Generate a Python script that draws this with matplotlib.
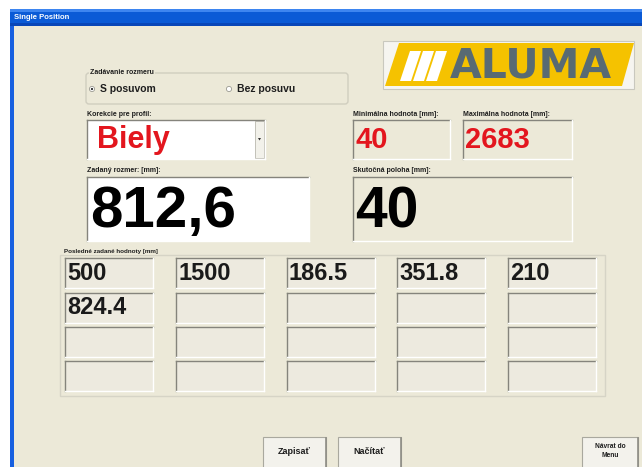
import matplotlib.pyplot as plt
from matplotlib.patches import Rectangle, Polygon, Circle, FancyBboxPatch

# Hodnoty z obrazovky
titulok = "Single Position"
profil = "Biely"
min_hodnota = "40"
max_hodnota = "2683"
zadany_rozmer = "812,6"
skutocna_poloha = "40"
posledne = ["500", "1500", "186.5", "351.8", "210",
            "824.4", "", "", "", "",
            "", "", "", "", "",
            "", "", "", "", ""]
tlacidla = ["Zapisať", "Načítať", "Návrat do\nMenu"]

W, H = 642, 467
BG = '#ECE9D8'
RED = '#E3161E'
FONT = 'Liberation Sans'

fig = plt.figure(figsize=(6.42, 4.67), dpi=100)
fig.patch.set_facecolor('white')
ax = fig.add_axes([0, 0, 1, 1])
ax.set_xlim(0, W)
ax.set_ylim(H, 0)
ax.axis('off')


def sunken(x, y, w, h, face=BG):
    ax.add_patch(Rectangle((x, y), w, h, facecolor=face, edgecolor='none'))
    ax.plot([x, x + w], [y, y], color='#85847C', lw=1.0)
    ax.plot([x, x], [y, y + h], color='#85847C', lw=1.0)
    ax.plot([x, x + w], [y + h, y + h], color='#FFFFFF', lw=1.0)
    ax.plot([x + w, x + w], [y, y + h], color='#FFFFFF', lw=1.0)


def label(x, y, s, size=5):
    ax.text(x, y, s, fontsize=size, fontweight='bold', family=FONT,
            color='#1E1E1E', va='center', ha='left')


def group(x, y, w, h, s):
    ax.add_patch(FancyBboxPatch((x, y), w, h, boxstyle='round,pad=0,rounding_size=3',
                                facecolor='none', edgecolor='#D0CEBF', lw=1.0))
    ax.text(x + 4, y, s, fontsize=5, fontweight='bold', family=FONT,
            color='#1E1E1E', va='center', ha='left',
            bbox=dict(facecolor=BG, edgecolor='none', pad=0.5))


# okno
ax.add_patch(Rectangle((10, 9), W - 10, H - 9, facecolor=BG, edgecolor='none'))
ax.add_patch(Rectangle((10, 9), W - 10, 17, facecolor='#0A5AD6', edgecolor='none'))
ax.add_patch(Rectangle((10, 9), W - 10, 3, facecolor='#3D85F0', edgecolor='none'))
ax.add_patch(Rectangle((10, 23), W - 10, 3, facecolor='#0846B8', edgecolor='none'))
ax.add_patch(Rectangle((10, 26), 4, H - 26, facecolor='#1760E0', edgecolor='none'))
ax.text(14, 17.5, titulok, fontsize=5.5, fontweight='bold', family=FONT,
        color='white', va='center', ha='left')

# logo ALUMA
ax.add_patch(Rectangle((383, 41), 251, 48, facecolor='#F6F5F0', edgecolor='#C9C8BE', lw=0.8))
ax.add_patch(Polygon([(385, 86), (399, 43), (634, 43), (622, 86)], closed=True,
                     facecolor='#F5C200', edgecolor='none'))
for i in range(3):
    x0 = 400 + i * 13
    ax.add_patch(Polygon([(x0, 81), (x0 + 10, 51), (x0 + 21, 51), (x0 + 11, 81)],
                         closed=True, facecolor='white', edgecolor='none'))
ax.text(531, 66.5, "ALUMA", fontsize=29.5, fontweight='bold', family='DejaVu Sans',
        color='#586A73', va='center', ha='center')

# Zadávanie rozmeru
group(86, 73, 262, 31, "Zadávanie rozmeru")
for cx, s in [(92, "S posuvom"), (229, "Bez posuvu")]:
    ax.add_patch(Circle((cx, 89), 2.6, facecolor='white', edgecolor='#9C9B92', lw=0.6))
    ax.text(cx + 8, 89.5, s, fontsize=7.5, fontweight='bold', family=FONT,
            color='#1E1E1E', va='center', ha='left')
ax.add_patch(Circle((92, 89), 1.1, facecolor='#2A2A2A', edgecolor='none'))

# Korekcie pre profil
label(87, 114, "Korekcie pre profil:")
sunken(87, 120, 178, 39, face='white')
ax.add_patch(Rectangle((255, 121), 9, 37, facecolor='#F2F1EA', edgecolor='#B9B8AE', lw=0.6))
ax.add_patch(Polygon([(258, 138), (261, 138), (259.5, 140.5)], closed=True,
                     facecolor='#333333', edgecolor='none'))
ax.text(97, 140, profil, fontsize=22, fontweight='bold', family=FONT,
        color=RED, va='center', ha='left')

# Minimálna / Maximálna
label(353, 114, "Minimálna hodnota [mm]:")
sunken(353, 120, 97, 39)
ax.text(355, 140, min_hodnota, fontsize=21, fontweight='bold', family=FONT,
        color=RED, va='center', ha='left')
label(463, 114, "Maximálna hodnota [mm]:")
sunken(463, 120, 109, 39)
ax.text(465, 140, max_hodnota, fontsize=21, fontweight='bold', family=FONT,
        color=RED, va='center', ha='left')

# Zadaný rozmer
label(87, 170, "Zadaný rozmer: [mm]:")
sunken(87, 177, 222, 64, face='white')
ax.text(90, 212, zadany_rozmer, fontsize=42, fontweight='bold', family=FONT,
        color='black', va='center', ha='left')

# Skutočná poloha
label(353, 171, "Skutočná poloha [mm]:")
sunken(353, 177, 219, 64)
ax.text(355, 212, skutocna_poloha, fontsize=41, fontweight='bold', family=FONT,
        color='black', va='center', ha='left')

# Posledné zadané hodnoty
ax.add_patch(Rectangle((60, 255), 545, 141, facecolor='none', edgecolor='#D6D4C6', lw=1.0))
ax.text(64, 252, "Posledné zadané hodnoty [mm]", fontsize=4.5, fontweight='bold',
        family=FONT, color='#1E1E1E', va='center', ha='left',
        bbox=dict(facecolor=BG, edgecolor='none', pad=0.3))
col_x = [65, 176, 287, 397, 508]
row_y = [258, 293, 327, 361]
for idx, val in enumerate(posledne):
    r, c = divmod(idx, 5)
    sunken(col_x[c], row_y[r], 88, 30, face='#EDEADF')
    if val:
        ax.text(col_x[c] + 2, row_y[r] + 15, val, fontsize=17, fontweight='bold',
                family=FONT, color='#1A1A1A', va='center', ha='left')

# tlačidlá
for (x0, w), s in zip([(263, 63), (338, 63), (582, 56)], tlacidla):
    ax.add_patch(Rectangle((x0, 437), w, 32, facecolor='#F3F2EC', edgecolor='#A9A89E', lw=0.8))
    ax.plot([x0 + w, x0 + w], [438, H], color='#8E8D85', lw=1.2)
    fs = 6.5 if '\n' not in s else 4.8
    ax.text(x0 + w / 2, 451, s, fontsize=fs, fontweight='bold', family=FONT,
            color='#1E1E1E', va='center', ha='center', linespacing=1.4)

fig.savefig('out.png', dpi=100, facecolor='white')
